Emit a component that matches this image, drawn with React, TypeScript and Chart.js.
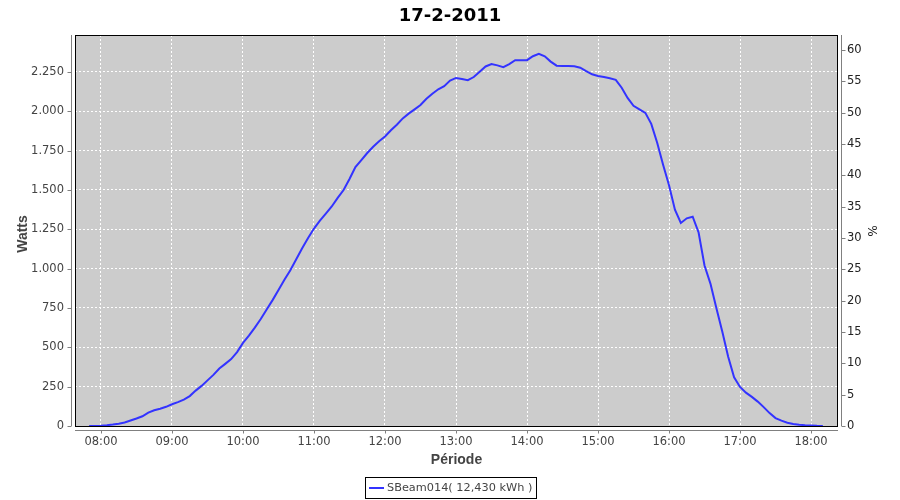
import React, { useEffect, useRef } from 'react';
import { Chart, registerables } from 'chart.js';

Chart.register(...registerables);

const chartTitle = '17-2-2011';
const xAxisTitle = 'Période';
const yAxisTitle = 'Watts';
const y2AxisTitle = '%';
const seriesLabel = 'SBeam014( 12,430 kWh )';

const times = [
  '07:50', '07:55', '08:00', '08:05', '08:10', '08:15', '08:20', '08:25', '08:30', '08:35',
  '08:40', '08:45', '08:50', '08:55', '09:00', '09:05', '09:10', '09:15', '09:20', '09:25',
  '09:30', '09:35', '09:40', '09:45', '09:50', '09:55', '10:00', '10:05', '10:10', '10:15',
  '10:20', '10:25', '10:30', '10:35', '10:40', '10:45', '10:50', '10:55', '11:00', '11:05',
  '11:10', '11:15', '11:20', '11:25', '11:30', '11:35', '11:40', '11:45', '11:50', '11:55',
  '12:00', '12:05', '12:10', '12:15', '12:20', '12:25', '12:30', '12:35', '12:40', '12:45',
  '12:50', '12:55', '13:00', '13:05', '13:10', '13:15', '13:20', '13:25', '13:30', '13:35',
  '13:40', '13:45', '13:50', '13:55', '14:00', '14:05', '14:10', '14:15', '14:20', '14:25',
  '14:30', '14:35', '14:40', '14:45', '14:50', '14:55', '15:00', '15:05', '15:10', '15:15',
  '15:20', '15:25', '15:30', '15:35', '15:40', '15:45', '15:50', '15:55', '16:00', '16:05',
  '16:10', '16:15', '16:20', '16:25', '16:30', '16:35', '16:40', '16:45', '16:50', '16:55',
  '17:00', '17:05', '17:10', '17:15', '17:20', '17:25', '17:30', '17:35', '17:40', '17:45',
  '17:50', '17:55', '18:00', '18:05', '18:10',
];

const watts = [
  0, 0, 2, 5, 9, 15, 22, 35, 48, 62,
  85, 100, 110, 122, 138, 152, 168, 190, 225, 255,
  290, 325, 365, 395, 425, 470, 528, 575, 625, 680,
  740, 800, 865, 930, 990, 1060, 1130, 1195, 1255, 1305,
  1350, 1395, 1450, 1500, 1570, 1645, 1690, 1735, 1775, 1810,
  1840, 1880, 1915, 1955, 1985, 2012, 2040, 2080, 2112, 2140,
  2160, 2195, 2212, 2205, 2198, 2218, 2252, 2285, 2300, 2292,
  2280, 2300, 2325, 2325, 2325, 2350, 2366, 2350, 2316, 2290,
  2288, 2288, 2286, 2277, 2255, 2235, 2225, 2218, 2210, 2200,
  2150, 2085, 2035, 2012, 1990, 1920, 1800, 1660, 1530, 1375,
  1290, 1320, 1330, 1230, 1020, 905, 750, 600, 440, 310,
  248, 212, 185, 155, 120, 82, 50, 34, 21, 13,
  8, 5, 3, 1, 0,
];

const xTickHours = [8, 9, 10, 11, 12, 13, 14, 15, 16, 17, 18];
const xTickLabels = ['08:00', '09:00', '10:00', '11:00', '12:00', '13:00', '14:00', '15:00', '16:00', '17:00', '18:00'];
const yTicks = [0, 250, 500, 750, 1000, 1250, 1500, 1750, 2000, 2250];
const y2Ticks = [0, 5, 10, 15, 20, 25, 30, 35, 40, 45, 50, 55, 60];

const toHours = (t: string) => {
  const [h, m] = t.split(':').map(Number);
  return h + m / 60;
};

const fmtWatts = (v: number) =>
  v >= 1000 ? `${Math.floor(v / 1000)}.${String(v % 1000).padStart(3, '0')}` : String(v);

const AXIS_GRAY = '#808080';
const TEXT_GRAY = '#444444';
const LINE_BLUE = '#3333ff';
const TICK_FONT = { family: '"DejaVu Sans"', size: 11.5 };

const decorPlugin = {
  id: 'decor',
  beforeDraw(chart: any) {
    const { ctx, chartArea: a } = chart;
    ctx.save();
    ctx.fillStyle = '#ffffff';
    ctx.fillRect(0, 0, chart.width, chart.height);
    ctx.fillStyle = '#cccccc';
    ctx.fillRect(a.left, a.top, a.right - a.left, a.bottom - a.top);
    ctx.restore();
  },
  beforeDatasetsDraw(chart: any) {
    const { ctx, chartArea: a } = chart;
    ctx.save();
    ctx.strokeStyle = '#000000';
    ctx.lineWidth = 1;
    ctx.strokeRect(a.left + 0.5, a.top + 0.5, a.right - a.left - 1, a.bottom - a.top);
    ctx.restore();
  },
  afterDraw(chart: any) {
    const { ctx, chartArea: a } = chart;
    const sx = chart.scales.x;
    const sy = chart.scales.y;
    const sy2 = chart.scales.y2;
    ctx.save();
    ctx.strokeStyle = AXIS_GRAY;
    ctx.lineWidth = 1;
    ctx.beginPath();
    // left axis
    const lx = a.left - 3.5;
    ctx.moveTo(lx, a.top);
    ctx.lineTo(lx, a.bottom);
    yTicks.forEach((v) => {
      const py = Math.round(sy.getPixelForValue(v)) + 0.5;
      ctx.moveTo(lx - 4, py);
      ctx.lineTo(lx, py);
    });
    // bottom axis
    const by = a.bottom + 4.5;
    ctx.moveTo(a.left, by);
    ctx.lineTo(a.right, by);
    xTickHours.forEach((v) => {
      const px = Math.round(sx.getPixelForValue(v)) + 0.5;
      ctx.moveTo(px, by);
      ctx.lineTo(px, by + 3);
    });
    // right axis
    const rx = a.right + 3.5;
    ctx.moveTo(rx, a.top);
    ctx.lineTo(rx, a.bottom);
    y2Ticks.forEach((v) => {
      const py = Math.round(sy2.getPixelForValue(v)) + 0.5;
      ctx.moveTo(rx, py);
      ctx.lineTo(rx + 4, py);
    });
    ctx.stroke();

    // title
    ctx.fillStyle = '#000000';
    ctx.font = 'bold 18px "DejaVu Sans"';
    ctx.textAlign = 'center';
    ctx.textBaseline = 'alphabetic';
    ctx.fillText(chartTitle, chart.width / 2, 21);

    // axis titles
    ctx.fillStyle = TEXT_GRAY;
    ctx.font = 'bold 14px "Liberation Sans"';
    ctx.fillText(xAxisTitle, (a.left + a.right) / 2, 464);
    ctx.save();
    ctx.translate(27, 234);
    ctx.rotate(-Math.PI / 2);
    ctx.fillText(yAxisTitle, 0, 0);
    ctx.restore();
    ctx.save();
    ctx.fillStyle = '#222222';
    ctx.font = '12px "DejaVu Sans"';
    ctx.translate(868, 231);
    ctx.rotate(Math.PI / 2);
    ctx.fillText(y2AxisTitle, 0, 0);
    ctx.restore();

    // legend
    ctx.font = '11.3px "DejaVu Sans"';
    const tw = ctx.measureText(seriesLabel).width;
    const lineLen = 15;
    const boxW = Math.round(4 + lineLen + 3 + tw + 4);
    const boxH = 21;
    const bx = Math.round(chart.width / 2 - boxW / 2) + 0.5;
    const bt = 477.5;
    ctx.fillStyle = '#ffffff';
    ctx.fillRect(bx, bt, boxW, boxH);
    ctx.strokeStyle = '#000000';
    ctx.lineWidth = 1;
    ctx.strokeRect(bx, bt, boxW, boxH);
    ctx.strokeStyle = LINE_BLUE;
    ctx.lineWidth = 2;
    ctx.beginPath();
    ctx.moveTo(bx + 3.5, bt + 10.5);
    ctx.lineTo(bx + 3.5 + lineLen, bt + 10.5);
    ctx.stroke();
    ctx.fillStyle = TEXT_GRAY;
    ctx.textAlign = 'left';
    ctx.textBaseline = 'middle';
    ctx.fillText(seriesLabel, bx + 3.5 + lineLen + 3, bt + 11);
    ctx.restore();
  },
};

export default function App() {
  const canvasRef = useRef<HTMLCanvasElement | null>(null);

  useEffect(() => {
    document.body.style.margin = '0';
    const canvas = canvasRef.current;
    if (!canvas) return;
    const chart = new Chart(canvas, {
      type: 'line',
      data: {
        datasets: [
          {
            label: seriesLabel,
            data: times.map((t, i) => ({ x: toHours(t), y: watts[i] })),
            borderColor: LINE_BLUE,
            backgroundColor: LINE_BLUE,
            borderWidth: 2,
            pointRadius: 0,
            tension: 0,
            fill: false,
            xAxisID: 'x',
            yAxisID: 'y',
          },
        ],
      },
      options: {
        animation: false,
        responsive: false,
        devicePixelRatio: 1,
        layout: { padding: { top: 35, left: 0, right: 0, bottom: 0 } },
        plugins: {
          legend: { display: false },
          title: { display: false },
          tooltip: { enabled: false },
        },
        font: { family: '"DejaVu Sans"' },
        scales: {
          x: {
            type: 'linear',
            position: 'bottom',
            min: 7.634,
            max: 18.38,
            afterBuildTicks: (s: any) => {
              s.ticks = xTickHours.map((v) => ({ value: v }));
            },
            afterFit: (s: any) => {
              s.height = 74;
            },
            ticks: {
              autoSkip: false,
              maxRotation: 0,
              padding: 9,
              color: TEXT_GRAY,
              font: TICK_FONT,
              callback: (_v: any, i: number) => xTickLabels[i],
            },
            grid: { color: '#ffffff', lineWidth: 1, drawTicks: false },
            border: { display: false, dash: [2, 2] },
          },
          y: {
            type: 'linear',
            position: 'left',
            min: 0,
            max: 2485,
            afterBuildTicks: (s: any) => {
              s.ticks = yTicks.map((v) => ({ value: v }));
            },
            afterFit: (s: any) => {
              s.width = 75;
            },
            ticks: {
              padding: 11,
              color: TEXT_GRAY,
              font: TICK_FONT,
              callback: (v: any) => fmtWatts(Number(v)),
            },
            grid: { color: '#ffffff', lineWidth: 1, drawTicks: false },
            border: { display: false, dash: [2, 2] },
          },
          y2: {
            type: 'linear',
            position: 'right',
            min: 0,
            max: 62.4,
            afterBuildTicks: (s: any) => {
              s.ticks = y2Ticks.map((v) => ({ value: v }));
            },
            afterFit: (s: any) => {
              s.width = 62;
            },
            ticks: {
              padding: 9,
              color: '#222222',
              font: TICK_FONT,
              callback: (v: any) => String(v),
            },
            grid: { display: false, drawTicks: false },
            border: { display: false },
          },
        },
      } as any,
      plugins: [decorPlugin],
    });
    return () => chart.destroy();
  }, []);

  return (
    <div style={{ position: 'absolute', left: 0, top: 0, width: 900, height: 500 }}>
      <canvas ref={canvasRef} width={900} height={500} />
    </div>
  );
}
